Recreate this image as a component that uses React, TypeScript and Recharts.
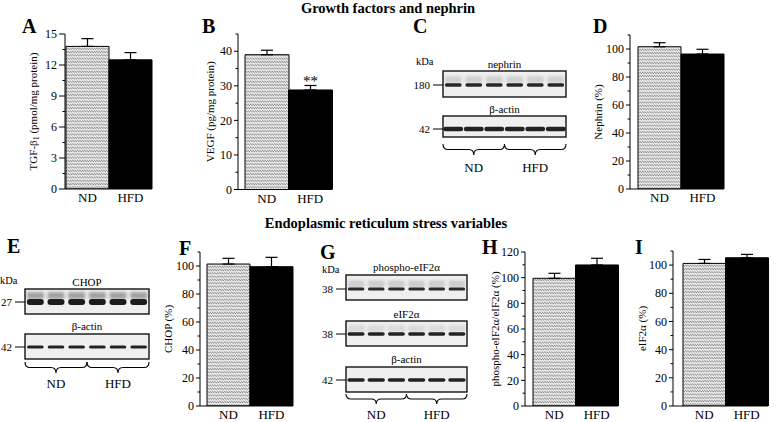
import React from "react";
import { BarChart, Bar, XAxis, YAxis, Cell, ErrorBar, LabelList } from "recharts";

const SERIF = '"Liberation Serif", "Times New Roman", serif';

// groups shared by every bar panel
const groups = ["ND", "HFD"];

// A: TGF-beta1
const tgfMeans = [13.8, 12.5];
const tgfErr = [0.75, 0.7];
const tgfMajor = [0, 3, 6, 9, 12, 15];
const tgfMinor = [1.5, 4.5, 7.5, 10.5, 13.5];

// B: VEGF
const vegfMeans = [39.0, 28.8];
const vegfErr = [1.3, 1.3];
const vegfMarks = ["", "**"];
const vegfMajor = [0, 10, 20, 30, 40];
const vegfMinor = [5, 15, 25, 35, 45];

// D: nephrin
const nephrinMeans = [101.6, 96.4];
const nephrinErr = [2.9, 3.4];

// F: CHOP
const chopMeans = [101.4, 99.5];
const chopErr = [4.1, 6.7];

// H: phospho-eIF2a / eIF2a
const peifMeans = [99.5, 109.9];
const peifErr = [3.9, 5.2];
const peifMajor = [0, 20, 40, 60, 80, 100, 120];
const peifMinor = [10, 30, 50, 70, 90, 110];

// I: eIF2a
const eifMeans = [101.2, 105.2];
const eifErr = [2.8, 2.4];

const pctMajor = [0, 20, 40, 60, 80, 100];
const pctMinor = [10, 30, 50, 70, 90, 110];

const LANES = 6;

const Y_W = 60;
const TOP_M = 10;
const X_H = 30;
const RIGHT_M = 6;

type PanelCfg = {
  means: number[];
  errs: number[];
  marks?: string[];
  major: number[];
  minor: number[];
  domain: [number, number];
  label: React.ReactNode;
  labelX: number;
  axisX: number;
  plotTop: number;
  plotBottom: number;
  plotRight: number;
  padL: number;
  tickLen: number;
};

const panels: PanelCfg[] = [
  {
    means: tgfMeans, errs: tgfErr, major: tgfMajor, minor: tgfMinor, domain: [0, 15],
    label: (
      <>
        <tspan>TGF-β</tspan>
        <tspan fontSize={8} dy={2.5}>1</tspan>
        <tspan dy={-2.5}> (pmol/mg protein)</tspan>
      </>
    ),
    labelX: 33, axisX: 65, plotTop: 34, plotBottom: 189, plotRight: 152, padL: 1, tickLen: 6,
  },
  {
    means: vegfMeans, errs: vegfErr, marks: vegfMarks, major: vegfMajor, minor: vegfMinor, domain: [0, 45],
    label: "VEGF (pg/mg protein)",
    labelX: 210, axisX: 238, plotTop: 33.5, plotBottom: 189, plotRight: 332, padL: 7, tickLen: 4,
  },
  {
    means: nephrinMeans, errs: nephrinErr, major: pctMajor, minor: pctMinor, domain: [0, 110],
    label: "Nephrin (%)",
    labelX: 598, axisX: 630, plotTop: 35, plotBottom: 189, plotRight: 724, padL: 8, tickLen: 4,
  },
  {
    means: chopMeans, errs: chopErr, major: pctMajor, minor: pctMinor, domain: [0, 110],
    label: "CHOP (%)",
    labelX: 168, axisX: 200, plotTop: 252, plotBottom: 406, plotRight: 293, padL: 7, tickLen: 4,
  },
  {
    means: peifMeans, errs: peifErr, major: peifMajor, minor: peifMinor, domain: [0, 120],
    label: "phospho-eIF2α/eIF2α (%)",
    labelX: 495, axisX: 525, plotTop: 252, plotBottom: 406, plotRight: 618, padL: 8, tickLen: 4,
  },
  {
    means: eifMeans, errs: eifErr, major: pctMajor, minor: pctMinor, domain: [0, 110],
    label: "eIF2α (%)",
    labelX: 642, axisX: 673, plotTop: 251, plotBottom: 406, plotRight: 768, padL: 10, tickLen: 4,
  },
];

function YTick(props: any) {
  const { y, payload, majors, len } = props;
  const major = majors.includes(payload.value);
  const l = major ? len : 2.5;
  return (
    <g>
      <line x1={Y_W - l} x2={Y_W} y1={y} y2={y} stroke="#000" strokeWidth={1} />
      {major && (
        <text x={Y_W - l - 2} y={y} dy="0.35em" textAnchor="end" fontSize={12} fontFamily={SERIF} fill="#000">
          {payload.value}
        </text>
      )}
    </g>
  );
}

function StarLabel(props: any) {
  const { x, y, width, value } = props;
  if (!value) return null;
  return (
    <text x={Number(x) + Number(width) / 2} y={Number(y) - 4} textAnchor="middle" fontSize={15} fontFamily={SERIF} fill="#000">
      {value}
    </text>
  );
}

function Panel({ cfg }: { cfg: PanelCfg }) {
  const left = cfg.axisX - Y_W;
  const top = cfg.plotTop - TOP_M;
  const width = cfg.plotRight - cfg.axisX + Y_W + RIGHT_M;
  const height = cfg.plotBottom - cfg.plotTop + TOP_M + X_H;
  const data = groups.map((g, i) => ({
    group: g,
    value: cfg.means[i],
    err: [0, cfg.errs[i]],
    mark: cfg.marks ? cfg.marks[i] : "",
  }));
  const ticks = [...cfg.major, ...cfg.minor].sort((a, b) => a - b);
  const midY = (cfg.plotTop + cfg.plotBottom) / 2 - top;
  const lx = cfg.labelX - left;
  return (
    <div style={{ position: "absolute", left, top, width, height }}>
      <BarChart
        width={width}
        height={height}
        data={data}
        margin={{ top: TOP_M, right: RIGHT_M, bottom: 0, left: 0 }}
        barCategoryGap={0}
        barGap={0}
      >
        <XAxis
          dataKey="group"
          height={X_H}
          padding={{ left: cfg.padL, right: 0 }}
          axisLine={{ stroke: "#000", strokeWidth: 1 }}
          tickLine={false}
          tickSize={0}
          tickMargin={4}
          tick={{ fill: "#000", fontSize: 13, fontFamily: SERIF }}
        />
        <YAxis
          width={Y_W}
          domain={cfg.domain}
          allowDataOverflow
          ticks={ticks}
          interval={0}
          axisLine={{ stroke: "#000", strokeWidth: 1 }}
          tickLine={false}
          tick={<YTick majors={cfg.major} len={cfg.tickLen} />}
          label={() => (
            <text
              x={lx}
              y={midY}
              dy="0.35em"
              transform={`rotate(-90 ${lx} ${midY})`}
              textAnchor="middle"
              fontSize={11}
              fontFamily={SERIF}
              fill="#000"
            >
              {cfg.label}
            </text>
          )}
        />
        <Bar dataKey="value" isAnimationActive={false} stroke="#000" strokeWidth={1}>
          {data.map((d, i) => (
            <Cell key={d.group} fill={i === 0 ? "url(#hatch)" : "#000"} stroke="#000" strokeWidth={1} />
          ))}
          <ErrorBar dataKey="err" width={6} stroke="#000" strokeWidth={1.2} direction="y" isAnimationActive={false} />
          {cfg.marks && <LabelList dataKey="mark" content={<StarLabel />} />}
        </Bar>
      </BarChart>
    </div>
  );
}

type BlotRow = {
  label: string;
  labelY: number;
  marker: string;
  top: number;
  h: number;
  bandY: number;
  bandH: number;
  fill: number;
  color: string;
  smear: number;
};

type BlotCfg = {
  x: number;
  w: number;
  kdaX: number;
  kdaY: number;
  rows: BlotRow[];
  braceY: number;
  braceD: number;
  groupY: number;
};

const blots: BlotCfg[] = [
  {
    x: 443, w: 123, kdaX: 416, kdaY: 65, braceY: 144, braceD: 11, groupY: 172,
    rows: [
      { label: "nephrin", labelY: 68, marker: "180", top: 71, h: 26, bandY: 85, bandH: 3.5, fill: 0.82, color: "#262626", smear: 0.18 },
      { label: "β-actin", labelY: 113, marker: "42", top: 116, h: 21, bandY: 129, bandH: 4.5, fill: 0.97, color: "#202020", smear: 0 },
    ],
  },
  {
    x: 25, w: 124, kdaX: 0, kdaY: 284, braceY: 362, braceD: 11, groupY: 388,
    rows: [
      { label: "CHOP", labelY: 286, marker: "27", top: 289, h: 25, bandY: 302, bandH: 6, fill: 0.82, color: "#1a1a1a", smear: 0.45 },
      { label: "β-actin", labelY: 330, marker: "42", top: 334, h: 25, bandY: 347, bandH: 3, fill: 0.8, color: "#222", smear: 0 },
    ],
  },
  {
    x: 346, w: 121, kdaX: 322, kdaY: 273, braceY: 394, braceD: 10, groupY: 418.5,
    rows: [
      { label: "phospho-eIF2α", labelY: 271, marker: "38", top: 275, h: 25, bandY: 289, bandH: 3, fill: 0.82, color: "#2a2a2a", smear: 0.2 },
      { label: "eIF2α", labelY: 318, marker: "38", top: 321, h: 25, bandY: 334, bandH: 3.5, fill: 0.84, color: "#222", smear: 0.12 },
      { label: "β-actin", labelY: 363, marker: "42", top: 367, h: 25, bandY: 380, bandH: 3.5, fill: 0.86, color: "#222", smear: 0 },
    ],
  },
];

function bracePath(x1: number, x2: number, y: number, d: number) {
  const m = (x1 + x2) / 2;
  const h = y + d / 2;
  const r = 5;
  return `M${x1},${y} Q${x1},${h} ${x1 + r},${h} L${m - r},${h} Q${m},${h} ${m},${y + d} Q${m},${h} ${m + r},${h} L${x2 - r},${h} Q${x2},${h} ${x2},${y}`;
}

function Blot({ b }: { b: BlotCfg }) {
  const laneW = b.w / LANES;
  const lanes = Array.from({ length: LANES }, (_, i) => i);
  const half = b.w / 2;
  return (
    <g fontFamily={SERIF} fontSize={11} fill="#000">
      <text x={b.kdaX} y={b.kdaY} fontSize={10.5}>kDa</text>
      {b.rows.map((r, ri) => (
        <g key={ri}>
          <text x={b.x + half} y={r.labelY} textAnchor="middle">{r.label}</text>
          <rect x={b.x} y={r.top} width={b.w} height={r.h} fill="#efefef" />
          {r.smear > 0 &&
            lanes.map((i) => (
              <rect
                key={`s${i}`}
                x={b.x + i * laneW + (laneW * (1 - r.fill)) / 2}
                y={r.bandY - r.bandH / 2 - 7}
                width={laneW * r.fill}
                height={7}
                fill="#444"
                opacity={r.smear}
                filter="url(#blur2)"
              />
            ))}
          {lanes.map((i) => (
            <rect
              key={i}
              x={b.x + i * laneW + (laneW * (1 - r.fill)) / 2}
              y={r.bandY - r.bandH / 2}
              width={laneW * r.fill}
              height={r.bandH}
              rx={r.bandH / 2}
              fill={r.color}
              filter="url(#blur1)"
            />
          ))}
          <rect x={b.x} y={r.top} width={b.w} height={r.h} fill="none" stroke="#000" strokeWidth={1.3} />
          <line x1={b.x - 10} x2={b.x} y1={r.bandY} y2={r.bandY} stroke="#000" strokeWidth={1} />
          <text x={b.x - 13} y={r.bandY} dy="0.35em" textAnchor="end">{r.marker}</text>
        </g>
      ))}
      <path d={bracePath(b.x, b.x + half, b.braceY, b.braceD)} fill="none" stroke="#000" strokeWidth={1.1} />
      <path d={bracePath(b.x + half, b.x + b.w, b.braceY, b.braceD)} fill="none" stroke="#000" strokeWidth={1.1} />
      {groups.map((g, i) => (
        <text key={g} x={b.x + half * i + half / 2} y={b.groupY} textAnchor="middle" fontSize={13}>
          {g}
        </text>
      ))}
    </g>
  );
}

const letters = [
  { t: "A", x: 22, y: 33 },
  { t: "B", x: 202, y: 33 },
  { t: "C", x: 413, y: 33 },
  { t: "D", x: 593, y: 33 },
  { t: "E", x: 7, y: 253 },
  { t: "F", x: 179, y: 255 },
  { t: "G", x: 320, y: 259 },
  { t: "H", x: 482, y: 254 },
  { t: "I", x: 635, y: 254 },
];

export default function App() {
  return (
    <div style={{ position: "absolute", left: 0, top: 0, width: 777, height: 422, background: "#fff", overflow: "hidden" }}>
      <svg width={777} height={422} style={{ position: "absolute", left: 0, top: 0 }}>
        <defs>
          <pattern id="hatch" width="2.4" height="3.3" patternUnits="userSpaceOnUse">
            <rect width="2.4" height="3.3" fill="#f2f2f2" />
            <path d="M0,0.6 L2.4,2.6" stroke="#555" strokeWidth="0.8" />
          </pattern>
          <filter id="blur1" x="-20%" y="-100%" width="140%" height="300%">
            <feGaussianBlur stdDeviation="0.7" />
          </filter>
          <filter id="blur2" x="-20%" y="-100%" width="140%" height="300%">
            <feGaussianBlur stdDeviation="1.5" />
          </filter>
        </defs>
        <text x={388} y={13} textAnchor="middle" fontFamily={SERIF} fontWeight="bold" fontSize={14.5}>
          Growth factors and nephrin
        </text>
        <text x={386} y={228} textAnchor="middle" fontFamily={SERIF} fontWeight="bold" fontSize={14.5}>
          Endoplasmic reticulum stress variables
        </text>
        {letters.map((l) => (
          <text key={l.t} x={l.x} y={l.y} fontFamily={SERIF} fontWeight="bold" fontSize={20}>
            {l.t}
          </text>
        ))}
        {blots.map((b, i) => (
          <Blot key={i} b={b} />
        ))}
      </svg>
      {panels.map((p, i) => (
        <Panel key={i} cfg={p} />
      ))}
    </div>
  );
}
